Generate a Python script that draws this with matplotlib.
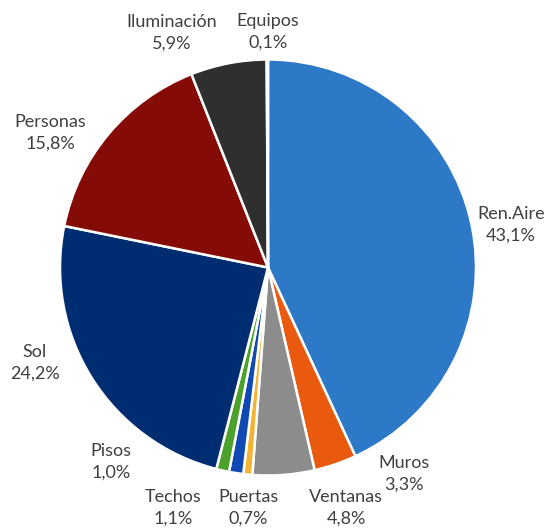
import matplotlib.pyplot as plt

labels = ["Ren.Aire", "Muros", "Ventanas", "Puertas", "Techos", "Pisos",
          "Sol", "Personas", "Iluminación", "Equipos"]
values = [43.1, 3.3, 4.8, 0.7, 1.1, 1.0, 24.2, 15.8, 5.9, 0.1]
colors = ["#2E78C8", "#EA5A0E", "#8C8C8C", "#F5B335", "#1048B4", "#4CA02C",
          "#002D72", "#850C06", "#2F2F2F", "#EAEAEA"]

# label centres in pixels (x, y from top)
label_pos = [(511, 225), (404, 474), (346, 508), (248, 508), (173, 508),
             (111, 462), (35, 363), (50, 133), (172, 33), (268, 32)]

W, H = 551, 529

fig = plt.figure(figsize=(W / 100, H / 100), dpi=100)
ax = fig.add_axes([0, 0, 1, 1])

ax.pie(values, colors=colors, startangle=90, counterclock=False,
       center=(268, H - 267.5), radius=208,
       wedgeprops=dict(edgecolor="white", linewidth=1.8))

for name, v, (x, y) in zip(labels, values, label_pos):
    txt = name + "\n" + f"{v:.1f}".replace(".", ",") + "%"
    ax.text(x, H - y, txt, ha="center", va="center", fontsize=13,
            family="Lato", color="#404040", linespacing=1.45)

ax.set_xlim(0, W)
ax.set_ylim(0, H)
ax.axis("off")

fig.savefig("out.png", dpi=100, facecolor="white")
